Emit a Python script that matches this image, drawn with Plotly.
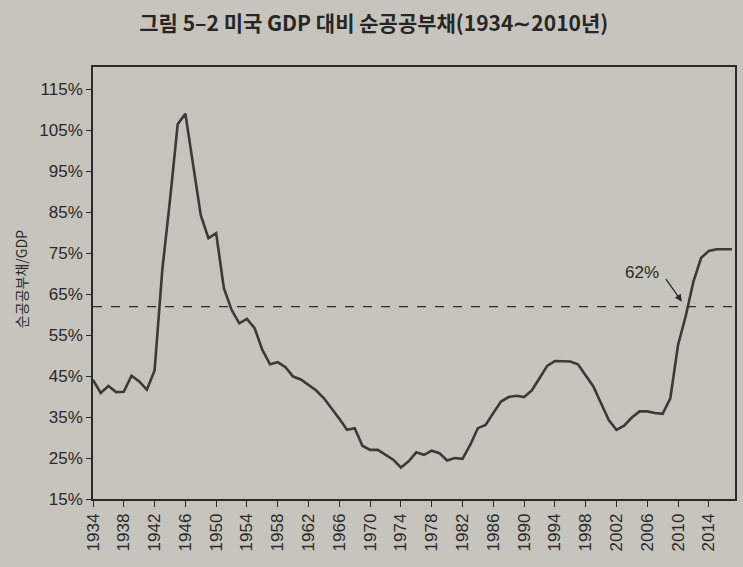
import plotly.graph_objects as go

years = list(range(1934, 2018))
debt_pct = [
    44.1, 40.9, 42.6, 41.1, 41.2, 45.1, 43.7, 41.7, 46.4, 70.9,   # 1934-1943
    88.0, 106.5, 109.1, 97.0, 84.3, 78.7, 79.9, 66.5, 61.2, 57.9,  # 1944-1953
    59.0, 56.7, 51.4, 47.9, 48.4, 47.2, 44.9, 44.2, 42.9, 41.5,    # 1954-1963
    39.6, 37.2, 34.6, 31.9, 32.3, 28.0, 27.0, 27.0, 25.8, 24.6,    # 1964-1973
    22.7, 24.2, 26.4, 25.8, 26.8, 26.2, 24.4, 25.0, 24.8, 28.2,    # 1974-1983
    32.3, 33.1, 36.0, 38.8, 39.9, 40.2, 39.9, 41.5, 44.5, 47.5,    # 1984-1993
    48.7, 48.7, 48.6, 47.9, 45.3, 42.5, 38.4, 34.3, 31.9, 32.9,    # 1994-2003
    34.9, 36.4, 36.4, 36.0, 35.8, 39.6, 52.6, 59.7, 68.1, 73.9,    # 2004-2013
    75.6, 76.0, 76.0, 76.0,                                        # 2014-2017
]
reference_level = 62
x_ticks = list(range(1934, 2015, 4))
y_ticks = list(range(15, 116, 10))

title_text = "그림 5–2 미국 GDP 대비 순공공부채(1934∼2010년)"
y_title = "순공공부채/GDP"
ref_label = "62%"

paper = "#c6c4bd"
ink = "#2a2a2a"

fig = go.Figure()
fig.add_trace(go.Scatter(
    x=years, y=debt_pct, mode="lines",
    line=dict(color="#3a3a38", width=2.6),
    hoverinfo="skip", showlegend=False,
))
fig.add_trace(go.Scatter(
    x=[1934, 2017.4], y=[reference_level, reference_level], mode="lines",
    line=dict(color=ink, width=1.3, dash="dash"),
    hoverinfo="skip", showlegend=False,
))

fig.update_layout(
    width=743, height=567,
    margin=dict(l=93, r=6, t=67, b=68),
    paper_bgcolor=paper, plot_bgcolor=paper,
    font=dict(family="Liberation Sans, Arial, sans-serif", color=ink, size=17),
    title=dict(
        text=title_text,
        font=dict(family="Noto Sans CJK KR", size=21, color="#262626", weight="bold"),
        x=0.503, xanchor="center", y=0.958, yanchor="middle",
    ),
    showlegend=False,
)
fig.update_xaxes(
    range=[1934, 2017.4], tickvals=x_ticks, ticktext=[str(v) for v in x_ticks],
    tickangle=-90, ticks="outside", ticklen=6, tickwidth=1.3, tickcolor=ink,
    showline=True, linecolor=ink, linewidth=1.6, mirror=True,
    showgrid=False, zeroline=False,
    tickfont=dict(size=17, color=ink),
)
fig.update_yaxes(
    range=[15, 120.5], tickvals=y_ticks, ticktext=[f"{v}%" for v in y_ticks],
    ticks="outside", ticklen=5, tickwidth=1.3, tickcolor=ink,
    showline=True, linecolor=ink, linewidth=1.6, mirror=True,
    showgrid=False, zeroline=False,
    tickfont=dict(size=17, color=ink),
)

fig.add_annotation(
    text=y_title, textangle=-90, xref="paper", yref="paper",
    x=-0.113, y=0.51, xanchor="center", yanchor="middle", showarrow=False,
    font=dict(family="Noto Sans CJK KR", size=14, color=ink),
)
fig.add_annotation(
    text=ref_label, xref="x", yref="y", x=2005.3, y=70.4,
    showarrow=False, font=dict(size=17, color=ink),
)
fig.add_annotation(
    text="", xref="x", yref="y", x=2010.5, y=63.2,
    ax=-17, ay=-24, showarrow=True, arrowhead=2, arrowsize=1.1,
    arrowwidth=1.3, arrowcolor=ink,
)

fig.write_html("out.html")
